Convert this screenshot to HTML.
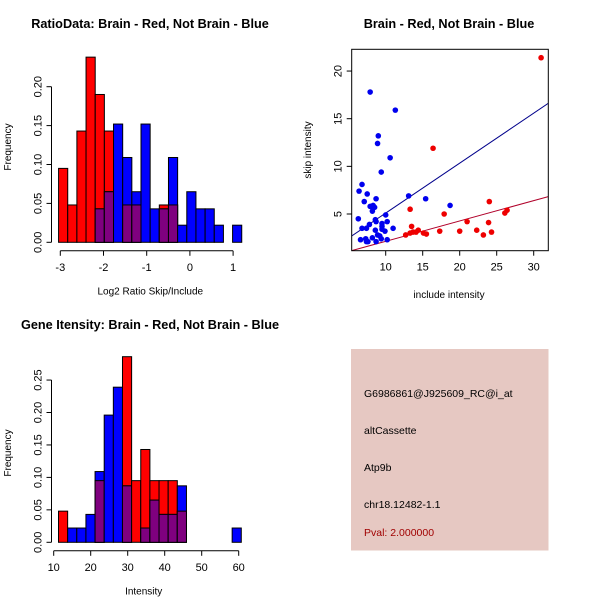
<!DOCTYPE html>
<html><head><meta charset="utf-8"><style>
body{margin:0;background:#fff;}
svg{display:block;font-family:"Liberation Sans",sans-serif;}
</style></head><body>
<svg id="c" width="600" height="600" xmlns="http://www.w3.org/2000/svg">
<rect x="351" y="349" width="197.5" height="201.5" fill="#e6c8c2"/>
<g font-size="10.5" fill="#000">
<text x="364" y="397">G6986861@J925609_RC@i_at</text>
<text x="364" y="434">altCassette</text>
<text x="364" y="471">Atp9b</text>
<text x="364" y="508">chr18.12482-1.1</text>
<text x="364" y="536" fill="#a00000">Pval: 2.000000</text>
</g>
</svg>
<script>
// Histogram 1: log2 ratio
const ratioBinStart = -3.04, ratioBinWidth = 0.212;
const ratioRed  = [0.095,0.048,0.143,0.238,0.19,0.143,0,0.048,0.048,0,0,0.048,0.048,0,0,0,0,0,0,0];
const ratioBlue = [0,0,0,0,0.043,0.065,0.152,0.109,0.065,0.152,0.043,0.043,0.109,0.022,0.065,0.043,0.043,0.022,0,0.022];
const ratioXTicks = [-3,-2,-1,0,1];
const ratioYTicks = ["0.00","0.05","0.10","0.15","0.20"];
// Histogram 2: intensity
const intBinStart = 11.3, intBinWidth = 2.47;
const intRed  = [0.048,0,0,0,0.095,0,0,0.286,0.095,0.143,0.095,0.095,0.095,0.048,0,0,0,0,0,0];
const intBlue = [0,0.022,0.022,0.043,0.109,0.196,0.239,0.087,0,0.022,0.065,0.043,0.043,0.087,0,0,0,0,0,0.022];
const intXTicks = [10,20,30,40,50,60];
const intYTicks = ["0.00","0.05","0.10","0.15","0.20","0.25"];
// Scatter
const blueInclude = [7.9,11.3,9.0,8.9,10.6,9.4,6.8,6.4,7.5,7.1,8.7,13.1,15.4,18.7,8.0,8.3,7.9,8.5,8.2,6.3,10,8.6,8.7,10.2,7.8,9.5,9.5,9.5,6.8,7.4,8.6,9.9,11.0,8.9,9.2,8.2,9.4,6.6,7.3,7.4,7.6,8.7,10.2];
const blueSkip    = [17.8,15.9,13.2,12.4,10.9,9.4,8.1,7.4,7.1,6.3,6.6,6.9,6.6,5.9,5.8,5.9,5.8,5.7,5.3,4.5,4.9,4.4,4.2,4.2,3.9,4.0,3.7,3.4,3.5,3.5,3.3,3.2,3.5,2.8,2.7,2.5,2.4,2.3,2.4,2.1,2.1,2.1,2.3];
const redInclude = [31.0,16.4,13.3,17.9,24.0,23.9,21.0,26.1,26.4,13.5,14.4,13.7,13.3,14.1,12.7,15.1,15.5,17.3,20,22.3,23.2,24.3];
const redSkip    = [21.4,11.9,5.5,5.0,6.3,4.1,4.2,5.1,5.4,3.7,3.3,3.1,3.0,3.1,2.8,3.0,2.9,3.2,3.2,3.3,2.8,3.1];
const blueFit = [-0.14,0.524]; // intercept, slope
const redFit  = [0.0,0.2135];
const scXTicks = [10,15,20,25,30];
const scYTicks = [5,10,15,20];

const svg=document.getElementById('c');
const NS='http://www.w3.org/2000/svg';
function mk(tag,at,name,parent){const e=document.createElementNS(NS,tag);for(const k in at)e.setAttribute(k,at[k]);


(parent||svg).appendChild(e);return e;}
function txt(x,y,s,name,extra){const t=mk('text',Object.assign({x:x,y:y,'font-size':11,'text-anchor':'middle'},extra||{}),name);t.textContent=s;return t;}

function hist(o){
  const xs=v=>o.x0+(v-o.xv0)*o.xk, ys=v=>o.y0-v*o.yk;
  for(let i=0;i<o.red.length;i++){
    const a=o.start+i*o.w, x1=xs(a), x2=xs(a+o.w), r=o.red[i], b=o.blue[i];
    if(r>0) mk('rect',{x:x1,y:ys(r),width:x2-x1,height:r*o.yk,fill:'#ff0000',stroke:'#000','stroke-width':1},'red-bar');
    if(b>0) mk('rect',{x:x1,y:ys(b),width:x2-x1,height:b*o.yk,fill:'#0000ff',stroke:'#000','stroke-width':1},'blue-bar');
    const m=Math.min(r,b);
    if(m>0) mk('rect',{x:x1,y:ys(m),width:x2-x1,height:m*o.yk,fill:'#7f007f',stroke:'#000','stroke-width':1},'overlap-bar');
  }
  const ty=o.y0+8.5;
  mk('line',{x1:xs(o.xt[0]),x2:xs(o.xt[o.xt.length-1]),y1:ty,y2:ty,stroke:'#000'},'x-axis');
  o.xt.forEach(v=>{mk('line',{x1:xs(v),x2:xs(v),y1:ty,y2:ty+5,stroke:'#000'},'x-tick');txt(xs(v),ty+20,v,'x-tick-label');});
  const ax=51.5;
  mk('line',{x1:ax,x2:ax,y1:ys(0),y2:ys(parseFloat(o.yt[o.yt.length-1])),stroke:'#000'},'y-axis');
  o.yt.forEach(s=>{const y=ys(parseFloat(s));mk('line',{x1:ax,x2:ax-5,y1:y,y2:y,stroke:'#000'},'y-tick');
    txt(ax-14,y,s,'y-tick-label',{transform:`rotate(-90 ${ax-14} ${y})`,dy:4});});
  txt(o.x0+90,o.y0+52,o.xlab,'x-axis-title',{'font-size':10});
  const cy=o.yTitleY; txt(11,cy,'Frequency','y-axis-title',{transform:`rotate(-90 11 ${cy})`,'font-size':10});
  txt(150,o.titleY,o.title,'chart-title',{'font-weight':'bold','font-size':12.7});
}
hist({red:ratioRed,blue:ratioBlue,start:ratioBinStart,w:ratioBinWidth,x0:60.3,xv0:-3,xk:43.2,y0:242.3,yk:778,xt:ratioXTicks,yt:ratioYTicks,xlab:'Log2 Ratio Skip/Include',title:'RatioData: Brain - Red, Not Brain - Blue',titleY:28,yTitleY:147});
hist({red:intRed,blue:intBlue,start:intBinStart,w:intBinWidth,x0:53.7,xv0:10,xk:3.7,y0:542.3,yk:649,xt:intXTicks,yt:intYTicks,xlab:'Intensity',title:'Gene Itensity: Brain - Red, Not Brain - Blue',titleY:329,yTitleY:453});

(function(){
  const L=351.7,R=548.3,T=49.3,B=250.7;
  const xs=v=>385.7+(v-10)*7.4, ys=v=>214-(v-5)*9.53;
  const xmin=10-(385.7-L)/7.4, xmax=10+(R-385.7)/7.4;
  const clip=mk('clipPath',{id:'sc'},'scatter-clip');
  mk('rect',{x:L,y:T,width:R-L,height:B-T},'clip-rect',clip);
  mk('line',{x1:xs(xmin),y1:ys(blueFit[0]+blueFit[1]*xmin),x2:xs(xmax),y2:ys(blueFit[0]+blueFit[1]*xmax),stroke:'#00008b','clip-path':'url(#sc)'},'blue-fit-line');
  mk('line',{x1:xs(xmin),y1:ys(redFit[0]+redFit[1]*xmin),x2:xs(xmax),y2:ys(redFit[0]+redFit[1]*xmax),stroke:'#b0002a','clip-path':'url(#sc)'},'red-fit-line');
  blueInclude.forEach((v,i)=>mk('circle',{cx:xs(v),cy:ys(blueSkip[i]),r:2.8,fill:'#0000ee'},'blue-point'));
  redInclude.forEach((v,i)=>mk('circle',{cx:xs(v),cy:ys(redSkip[i]),r:2.8,fill:'#ee0000'},'red-point'));
  mk('rect',{x:L,y:T,width:R-L,height:B-T,fill:'none',stroke:'#000'},'plot-box');
  scXTicks.forEach(v=>{mk('line',{x1:xs(v),x2:xs(v),y1:B,y2:B+5,stroke:'#000'},'x-tick');txt(xs(v),B+20,v,'x-tick-label');});
  scYTicks.forEach(v=>{const y=ys(v);mk('line',{x1:L,x2:L-5,y1:y,y2:y,stroke:'#000'},'y-tick');
    txt(L-14,y,v,'y-tick-label',{transform:`rotate(-90 ${L-14} ${y})`,dy:4});});
  txt(449,298,'include intensity','x-axis-title',{'font-size':10});
  txt(311,150,'skip intensity','y-axis-title',{transform:'rotate(-90 311 150)','font-size':10});
  txt(449,28,'Brain - Red, Not Brain - Blue','chart-title',{'font-weight':'bold','font-size':12.7});
})();
</script>
</body></html>
